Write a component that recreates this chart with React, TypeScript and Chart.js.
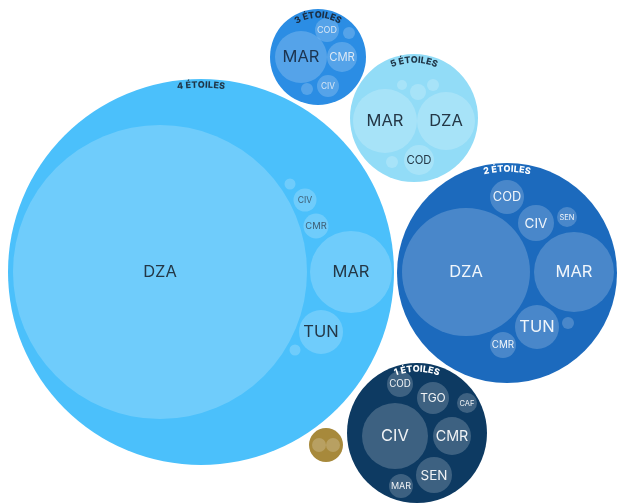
import React, { useEffect, useRef } from "react";
import { Chart, registerables } from "chart.js";

Chart.register(...registerables);

// Parent groups (bubble centre x, centre y, radius in chart units)
const groupNames = ["4 ÉTOILES", "3 ÉTOILES", "5 ÉTOILES", "2 ÉTOILES", "1 ÉTOILES", ""];
const groupX = [201, 318, 414, 507, 417, 326];
const groupY = [272, 57, 118, 273, 433, 445];
const groupR = [193, 48, 64, 110, 70, 17];

// Children of each group
const g4Codes = ["DZA", "MAR", "TUN", "CMR", "CIV", "", ""];
const g4X = [160, 351, 321, 316, 305, 290, 295];
const g4Y = [272, 272, 332, 226, 200, 184, 350];
const g4R = [147, 41, 22, 12.5, 11.5, 5.5, 5.5];

const g3Codes = ["MAR", "CMR", "COD", "CIV", "", ""];
const g3X = [301, 342, 327, 328, 349, 307];
const g3Y = [57, 57, 30, 86, 33, 89];
const g3R = [26, 15, 12, 11, 6, 6];

const g5Codes = ["MAR", "DZA", "COD", "", "", "", ""];
const g5X = [385, 446, 419, 402, 418, 433, 392];
const g5Y = [121, 121, 160, 85, 92, 85, 162];
const g5R = [32, 29, 15, 5, 8, 6, 6];

const g2Codes = ["DZA", "MAR", "COD", "CIV", "SEN", "TUN", "CMR", ""];
const g2X = [466, 574, 507, 536, 567, 537, 503, 568];
const g2Y = [272, 272, 197, 223, 217, 327, 345, 323];
const g2R = [64, 40, 17, 18, 10, 22, 13, 6];

const g1Codes = ["CIV", "CMR", "TGO", "COD", "CAF", "SEN", "MAR"];
const g1X = [395, 452, 433, 400, 467, 434, 401];
const g1Y = [436, 436, 398, 384, 403, 475, 486];
const g1R = [33, 19, 16, 13, 10, 18, 12];

const g0Codes = ["", ""];
const g0X = [319, 333];
const g0Y = [445, 445];
const g0R = [7, 7];

// Styles
const groupColors = ["#4bc0fb", "#2b8de4", "#92dcf7", "#1c6abd", "#0d3a62", "#a7893b"];
const groupLabelColors = ["#1f3547", "#1b2d42", "#1f3547", "#ffffff", "#ffffff", "#ffffff"];
const childTextColors = ["#243746", "#1c3450", "#243746", "rgba(255,255,255,0.92)", "rgba(255,255,255,0.92)", "#ffffff"];
const childFill = "rgba(255,255,255,0.2)";

const children = [
  { codes: g4Codes, x: g4X, y: g4Y, r: g4R },
  { codes: g3Codes, x: g3X, y: g3Y, r: g3R },
  { codes: g5Codes, x: g5X, y: g5Y, r: g5R },
  { codes: g2Codes, x: g2X, y: g2Y, r: g2R },
  { codes: g1Codes, x: g1X, y: g1Y, r: g1R },
  { codes: g0Codes, x: g0X, y: g0Y, r: g0R },
];

const FONT = "Inter, 'Noto Sans', sans-serif";

function drawArcText(ctx: CanvasRenderingContext2D, text: string, cx: number, cy: number, radius: number, color: string) {
  ctx.save();
  ctx.font = `800 9px ${FONT}`;
  ctx.fillStyle = color;
  ctx.textAlign = "center";
  ctx.textBaseline = "middle";
  const chars = Array.from(text);
  const spacing = 0.3;
  const widths = chars.map((c) => ctx.measureText(c).width);
  const total = widths.reduce((a, b) => a + b, 0) + spacing * (chars.length - 1);
  let angle = -Math.PI / 2 - total / 2 / radius;
  chars.forEach((c, i) => {
    const w = widths[i];
    const a = angle + w / 2 / radius;
    ctx.save();
    ctx.translate(cx + radius * Math.cos(a), cy + radius * Math.sin(a));
    ctx.rotate(a + Math.PI / 2);
    ctx.fillText(c, 0, 0);
    ctx.restore();
    angle += (w + spacing) / radius;
  });
  ctx.restore();
}

const labelPlugin = {
  id: "packedLabels",
  afterDatasetsDraw(chart: any) {
    const ctx: CanvasRenderingContext2D = chart.ctx;
    children.forEach((g, gi) => {
      const meta = chart.getDatasetMeta(gi + 1);
      meta.data.forEach((el: any, i: number) => {
        const code = g.codes[i];
        if (!code) return;
        const r = el.options.radius;
        const size = Math.max(5.5, Math.min(16.5, r * 0.75));
        ctx.save();
        ctx.font = `400 ${size.toFixed(1)}px ${FONT}`;
        ctx.textAlign = "center";
        ctx.textBaseline = "middle";
        let color = childTextColors[gi];
        if (gi === 1 && r < 20) color = "rgba(225,235,245,0.95)";
        if (gi === 0 && r < 20) color = "#3d5d73";
        ctx.fillStyle = color;
        ctx.fillText(code, el.x, el.y + 0.5);
        ctx.restore();
      });
    });
    const pmeta = chart.getDatasetMeta(0);
    pmeta.data.forEach((el: any, i: number) => {
      const name = groupNames[i];
      if (!name) return;
      const r = el.options.radius;
      drawArcText(ctx, name, el.x, el.y, r - 6, groupLabelColors[i]);
    });
  },
};

export default function App() {
  const ref = useRef<HTMLCanvasElement | null>(null);
  useEffect(() => {
    document.body.style.margin = "0";
    if (!ref.current) return;
    const datasets: any[] = [
      {
        label: "groups",
        data: groupX.map((x, i) => ({ x, y: groupY[i], r: groupR[i] })),
        backgroundColor: groupColors,
        borderWidth: 0,
        order: 2,
        clip: false,
      },
      ...children.map((g, gi) => ({
        label: groupNames[gi] || "other",
        data: g.x.map((x, i) => ({ x, y: g.y[i], r: g.r[i] })),
        backgroundColor: childFill,
        borderWidth: 0,
        order: 1,
        clip: false,
      })),
    ];
    const chart = new Chart(ref.current, {
      type: "bubble",
      data: { datasets },
      options: {
        animation: false,
        responsive: true,
        maintainAspectRatio: false,
        devicePixelRatio: 1,
        layout: { padding: 0, autoPadding: false },
        events: [],
        plugins: { legend: { display: false }, tooltip: { enabled: false } },
        scales: {
          x: { type: "linear", min: 0, max: 617, display: false },
          y: { type: "linear", min: 0, max: 503, reverse: true, display: false },
        },
      },
      plugins: [labelPlugin],
    } as any);
    return () => chart.destroy();
  }, []);
  return (
    <div style={{ width: 617, height: 503, position: "relative", background: "#ffffff" }}>
      <canvas ref={ref} />
    </div>
  );
}
